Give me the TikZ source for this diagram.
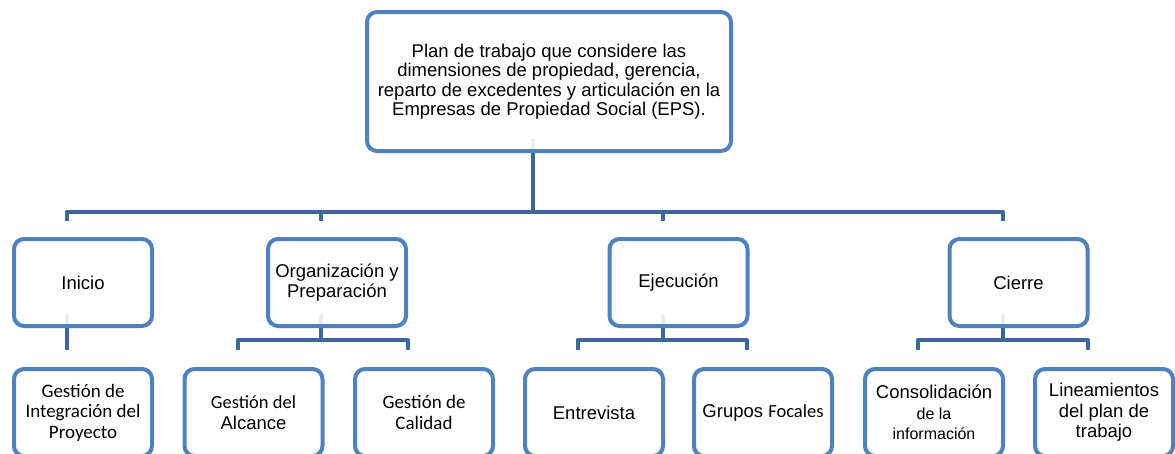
\documentclass[tikz,border=0pt]{standalone}
\usepackage{fontspec}
\setmainfont{Liberation Sans}
\newfontfamily\calibfont{Carlito}
\usetikzlibrary{calc}
\definecolor{boxblue}{RGB}{79,129,189}
\definecolor{connblue}{RGB}{63,103,153}
\definecolor{lightconn}{RGB}{232,236,244}
\begin{document}
\begin{tikzpicture}[x=1pt,y=-1pt,
  box/.style={draw=boxblue, line width=4pt, rounded corners=10pt, fill=white,
    inner sep=0pt, outer sep=0pt, align=center,
    font=\fontsize{18.5}{19.5}\selectfont,
    minimum width=138pt, minimum height=87pt},
  lowbox/.style={box, font=\fontsize{18.5}{20.5}\selectfont},
  calbox/.style={box, font=\calibfont\fontsize{19}{20.5}\selectfont},
  conn/.style={draw=connblue, line width=4pt, line join=round},
  faint/.style={draw=lightconn, line width=4pt}]
\useasboundingbox (0,0) rectangle (1175,453);
\clip (0,0) rectangle (1175,453);
\fill[white] (0,0) rectangle (1175,453);

% nodes
\node[box, minimum width=364pt, minimum height=139pt] (root) at (549,81.5)
  {Plan de trabajo que considere las\\dimensiones de propiedad, gerencia,\\reparto de excedentes y articulación en la\\Empresas de Propiedad Social (EPS).};

\node[box] (inicio) at (83,282.5) {Inicio};
\node[box] (org) at (337,282.5) {Organización y\\Preparación};
\node[box] (ejec) at (678.5,282.5) {Ejecución};
\node[box] (cierre) at (1018.5,282.5) {Cierre};

\node[calbox] (integ) at (83,412.5) {Gestión de\\Integración del\\Proyecto};
\node[lowbox] (alc) at (253.5,412.5) {{\calibfont Gestión del}\\Alcance};
\node[calbox] (cal) at (424,412.5) {Gestión de\\Calidad};
\node[lowbox] (entr) at (594,412.5) {Entrevista};
\node[lowbox] (grup) at (763,412.5) {Grupos {\calibfont Focales}};
\node[lowbox] (cons) at (934,412.5) {Consolidación\\{\fontsize{16}{20.5}\selectfont de la}\\{\fontsize{16}{20.5}\selectfont información}};
\node[lowbox] (lin) at (1104,412.5) {Lineamientos\\del plan de\\trabajo};

% connectors: root to level 1
\draw[faint] ($(root.south)+(-16,-12)$) -- ($(root.south)+(-16,-2)$);
\draw[conn] ($(root.south)+(-16,2)$) -- ($(root.south)+(-16,60.5)$);
\draw[conn] ($(inicio.north)+(-16,-18)$) -- ($(inicio.north)+(-16,-27.5)$)
  -- ($(cierre.north)+(-16,-27.5)$) -- ($(cierre.north)+(-16,-18)$);
\draw[conn] ($(org.north)+(-16,-18)$) -- ($(org.north)+(-16,-27.5)$);
\draw[conn] ($(ejec.north)+(-16,-18)$) -- ($(ejec.north)+(-16,-27.5)$);

% Inicio
\draw[faint] ($(inicio.south)+(-16,-12)$) -- ($(inicio.south)+(-16,-2)$);
\draw[conn] ($(inicio.south)+(-16,2)$) -- ($(integ.north)+(-16,-19)$);

% Organizacion
\draw[faint] ($(org.south)+(-16,-12)$) -- ($(org.south)+(-16,-2)$);
\draw[conn] ($(org.south)+(-16,2)$) -- ($(org.south)+(-16,14)$);
\draw[conn] ($(alc.north)+(-16,-19)$) -- ($(alc.north)+(-16,-29)$)
  -- ($(cal.north)+(-16,-29)$) -- ($(cal.north)+(-16,-19)$);

% Ejecucion
\draw[faint] ($(ejec.south)+(-16,-12)$) -- ($(ejec.south)+(-16,-2)$);
\draw[conn] ($(ejec.south)+(-16,2)$) -- ($(ejec.south)+(-16,14)$);
\draw[conn] ($(entr.north)+(-16,-19)$) -- ($(entr.north)+(-16,-29)$)
  -- ($(grup.north)+(-16,-29)$) -- ($(grup.north)+(-16,-19)$);

% Cierre
\draw[faint] ($(cierre.south)+(-16,-12)$) -- ($(cierre.south)+(-16,-2)$);
\draw[conn] ($(cierre.south)+(-16,2)$) -- ($(cierre.south)+(-16,14)$);
\draw[conn] ($(cons.north)+(-16,-19)$) -- ($(cons.north)+(-16,-29)$)
  -- ($(lin.north)+(-16,-29)$) -- ($(lin.north)+(-16,-19)$);
\end{tikzpicture}
\end{document}
